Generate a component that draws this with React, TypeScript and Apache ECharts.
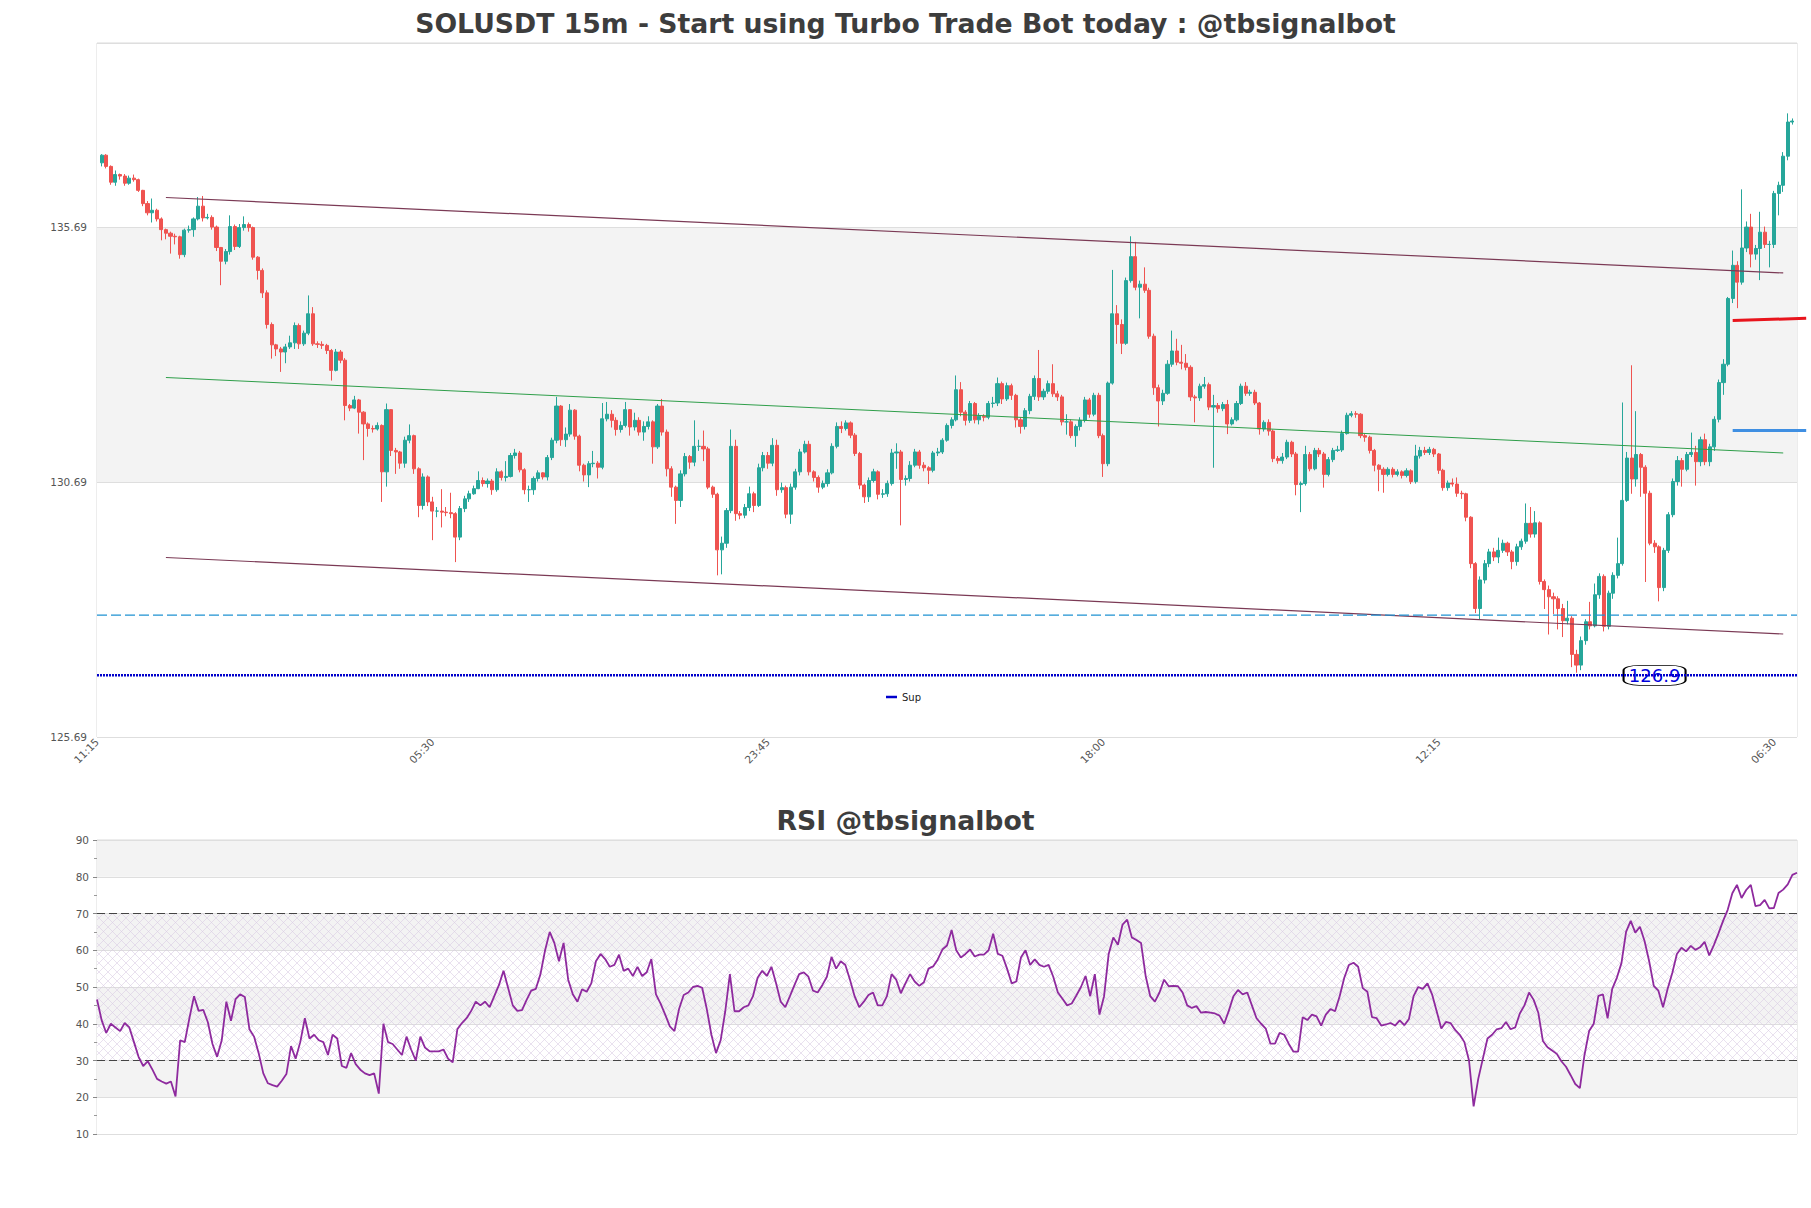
import React, { useEffect, useRef } from 'react';
import * as echarts from 'echarts';

// ---------- DATA ----------
const firstOpen = 136.95;

const closes = [
  137.10,136.88,136.57,136.72,136.69,136.55,136.65,136.62,136.41,136.15,
  135.97,136.02,135.85,135.64,135.57,135.51,135.50,135.15,135.63,135.64,
  135.85,136.10,135.87,135.88,135.69,135.29,135.02,135.21,135.70,135.31,
  135.68,135.74,135.68,135.10,134.84,134.40,133.78,133.38,133.30,133.24,
  133.34,133.42,133.76,133.40,133.61,133.99,133.40,133.39,133.37,133.27,
  132.88,133.24,133.08,132.19,132.14,132.30,132.06,131.83,131.74,131.73,
  131.80,130.89,132.11,131.31,131.28,131.06,131.51,131.60,130.95,130.23,
  130.79,130.30,130.12,130.12,130.10,130.09,130.07,129.61,130.17,130.36,
  130.46,130.56,130.72,130.66,130.71,130.54,130.89,130.78,130.80,131.21,
  131.26,130.93,130.54,130.54,130.76,130.87,130.79,131.17,131.51,132.18,
  131.52,131.63,132.10,131.59,131.02,130.83,131.05,131.06,130.98,131.93,
  132.02,131.90,131.72,131.80,132.11,131.77,131.90,131.67,131.78,131.87,
  131.38,132.18,131.67,130.95,130.59,130.33,130.85,131.19,131.08,131.39,
  131.39,131.34,130.59,130.45,129.36,129.49,130.13,131.39,130.07,130.04,
  130.19,130.46,130.23,130.97,131.21,131.06,131.41,130.54,130.58,130.06,
  130.59,130.89,131.28,131.43,130.89,130.78,130.59,130.66,130.87,131.39,
  131.78,131.74,131.85,131.61,131.25,130.63,130.40,130.72,130.89,130.45,
  130.46,130.66,131.26,131.28,130.74,130.76,131.02,131.28,131.02,130.97,
  130.92,131.26,131.28,131.51,131.80,131.91,132.50,132.06,131.90,132.23,
  131.91,131.98,131.96,132.23,132.24,132.62,132.32,132.58,132.39,131.91,
  131.78,132.09,132.37,132.72,132.36,132.47,132.62,132.42,132.36,131.87,
  131.87,131.60,131.78,131.90,132.30,132.02,132.39,131.60,131.05,132.63,
  133.99,133.78,133.41,134.64,135.11,134.51,134.57,134.45,133.55,132.54,
  132.28,132.43,133.00,133.26,133.04,133.02,132.94,132.36,132.34,132.57,
  132.60,132.16,132.19,132.13,132.21,131.83,131.91,132.23,132.57,132.43,
  132.45,132.24,131.73,131.86,131.69,131.15,131.11,131.18,131.47,131.24,
  130.64,130.66,131.23,130.95,131.31,131.24,130.84,131.13,131.31,131.32,
  131.64,132.00,132.03,132.02,131.60,131.57,131.31,131.02,130.94,130.84,
  130.94,130.84,130.89,130.82,130.91,130.70,131.20,131.31,131.27,131.33,
  131.24,130.92,130.58,130.67,130.65,130.47,130.46,130.00,129.09,128.21,
  128.77,129.09,129.32,129.22,129.35,129.49,129.32,129.13,129.42,129.53,
  129.88,129.67,129.89,128.74,128.58,128.44,128.40,128.21,127.97,128.02,
  127.31,127.10,127.58,127.95,127.87,128.48,128.84,127.86,128.51,128.86,
  129.09,130.33,131.16,130.75,131.23,130.98,130.47,129.49,129.42,128.62,
  129.35,130.05,130.70,131.11,130.94,131.23,131.27,131.09,131.52,131.09,
  131.38,131.92,132.64,133.00,134.29,134.94,134.61,135.28,135.69,135.16,
  135.27,135.59,135.35,135.35,136.35,136.51,137.08,137.75,137.77,
];

const highs = [
  137.12,137.12,136.90,136.80,136.74,136.73,136.70,136.72,136.64,136.42,
  136.20,136.25,136.05,135.88,135.66,135.60,135.56,135.52,135.66,135.72,
  135.88,136.28,136.30,135.95,135.92,135.72,135.30,135.26,135.92,135.74,
  135.75,135.90,135.78,135.70,135.12,134.88,134.45,133.82,133.40,133.34,
  133.40,133.56,133.82,133.80,133.66,134.35,134.12,133.45,133.45,133.40,
  133.30,133.30,133.28,133.12,132.22,132.38,132.32,132.08,131.86,131.80,
  131.86,131.82,132.23,132.12,131.36,131.30,131.58,131.82,131.62,130.98,
  130.86,130.82,130.40,130.20,130.55,130.20,130.48,130.10,130.22,130.42,
  130.52,130.62,130.90,130.78,130.76,130.75,130.96,130.92,131.10,131.26,
  131.34,131.30,130.96,130.62,130.80,130.92,130.88,131.22,131.56,132.36,
  132.20,131.76,132.22,132.12,131.62,131.05,131.10,131.30,131.10,132.24,
  132.26,132.10,131.96,131.88,132.26,132.12,132.05,131.96,131.88,131.98,
  131.90,132.22,132.32,131.72,131.00,130.62,130.92,131.26,131.22,131.90,
  131.52,131.70,131.38,130.62,130.48,129.62,130.18,131.72,131.52,130.12,
  130.26,130.60,130.50,131.05,131.28,131.28,131.55,131.52,130.68,130.62,
  130.66,130.95,131.34,131.50,131.50,130.92,130.82,130.72,130.94,131.45,
  131.86,131.88,131.90,131.88,131.65,131.28,130.66,130.78,130.95,130.92,
  130.55,130.72,131.34,131.45,131.32,130.82,131.10,131.34,131.32,131.08,
  131.00,131.30,131.36,131.55,131.84,131.96,132.78,132.65,132.10,132.28,
  132.26,132.04,132.02,132.28,132.36,132.74,132.66,132.64,132.62,132.42,
  131.96,132.14,132.42,132.78,133.28,132.52,132.68,133.00,132.48,132.40,
  132.02,131.92,131.82,131.96,132.36,132.34,132.44,132.44,131.64,132.66,
  134.85,134.16,133.88,134.70,135.51,135.40,134.64,134.90,134.50,133.60,
  132.60,132.50,133.08,133.66,133.50,133.38,133.20,132.98,132.40,132.62,
  132.75,132.64,132.40,132.24,132.26,132.30,131.96,132.28,132.62,132.65,
  132.50,132.50,132.26,131.90,131.92,131.72,131.20,131.26,131.52,131.50,
  131.28,130.70,131.40,131.28,131.36,131.36,131.28,131.18,131.36,131.40,
  131.70,132.05,132.08,132.08,132.04,131.64,131.60,131.34,131.04,130.98,
  130.98,130.98,130.94,130.92,130.96,130.94,131.42,131.38,131.38,131.38,
  131.36,131.26,130.95,130.72,130.76,130.78,130.52,130.48,130.02,129.12,
  128.84,129.16,129.38,129.40,129.60,129.56,129.52,129.36,129.48,129.58,
  130.27,130.20,130.12,129.92,128.78,128.66,128.52,128.45,128.30,128.36,
  128.06,127.40,127.66,128.00,128.34,128.70,128.90,128.88,128.56,128.92,
  129.60,132.25,131.28,132.98,132.08,131.26,131.02,130.52,129.55,129.45,
  129.40,130.10,130.76,131.20,131.16,131.28,131.66,131.40,131.58,131.64,
  131.44,131.98,132.70,133.10,134.32,135.23,135.02,136.43,135.80,135.95,
  135.34,135.99,135.70,135.42,136.40,136.58,137.16,137.92,137.82,
];

const lows = [
  136.88,136.84,136.52,136.50,136.62,136.50,136.52,136.58,136.38,136.10,
  135.92,135.78,135.80,135.43,135.45,135.17,135.35,135.07,135.10,135.58,
  135.50,135.82,135.80,135.84,135.64,135.22,134.55,134.96,135.15,135.24,
  135.28,135.62,135.60,135.05,134.66,134.30,133.70,133.11,133.16,132.85,
  133.02,133.30,133.30,133.30,133.36,133.57,133.36,133.32,133.30,133.20,
  132.68,132.86,133.02,131.90,132.08,132.12,131.64,131.12,131.58,131.66,
  131.70,130.30,130.60,131.20,130.85,130.95,130.97,131.45,130.85,130.00,
  130.15,130.22,129.55,130.00,129.80,130.02,129.98,129.12,129.55,130.10,
  130.30,130.44,130.55,130.60,130.58,130.44,130.50,130.72,130.70,130.78,
  131.15,130.88,130.45,130.30,130.44,130.70,130.74,130.72,131.12,131.45,
  131.40,131.38,131.58,131.52,130.90,130.70,130.59,130.98,130.76,130.94,
  131.88,131.76,131.60,131.66,131.76,131.60,131.70,131.60,131.50,131.72,
  131.05,131.34,131.60,130.80,130.40,129.87,130.20,130.80,130.95,131.00,
  131.30,131.10,130.55,130.38,128.86,128.88,129.40,130.08,129.93,129.96,
  129.98,130.12,130.10,130.20,130.90,130.95,131.00,130.42,130.48,129.98,
  129.87,130.54,130.82,131.25,130.82,130.70,130.48,130.55,130.60,130.84,
  131.35,131.65,131.70,131.55,131.20,130.55,130.28,130.30,130.68,130.35,
  130.38,130.40,130.62,130.95,129.84,130.62,130.70,130.98,130.95,130.90,
  130.65,130.88,131.20,131.24,131.48,131.74,131.88,131.98,131.80,131.85,
  131.84,131.82,131.88,131.92,132.15,132.18,132.22,132.28,132.30,131.76,
  131.64,131.72,132.02,132.30,132.28,132.30,132.42,132.36,132.28,131.80,
  131.62,131.55,131.38,131.70,131.86,131.95,131.98,131.55,130.79,131.00,
  132.60,133.40,133.20,133.38,134.60,134.45,133.90,134.40,133.50,132.40,
  131.78,132.20,132.40,132.95,132.98,132.90,132.88,132.28,131.86,132.28,
  132.52,132.10,130.97,132.05,132.08,131.63,131.80,131.88,132.20,132.38,
  132.38,132.20,131.62,131.68,131.60,131.08,131.05,131.05,131.14,131.18,
  130.43,130.10,130.62,130.90,130.92,131.18,130.58,130.80,131.08,131.28,
  131.28,131.62,131.96,131.95,131.55,131.48,131.25,130.90,130.51,130.48,
  130.80,130.78,130.80,130.76,130.78,130.65,130.66,131.15,131.22,131.22,
  131.18,130.85,130.52,130.52,130.60,130.40,130.36,129.92,129.00,128.12,
  128.00,128.70,129.02,129.14,129.10,129.30,129.24,128.98,129.05,129.36,
  129.48,129.60,129.60,128.68,128.20,127.70,128.10,127.80,127.65,127.90,
  127.06,126.95,127.00,127.50,127.80,127.84,128.40,127.76,127.80,128.40,
  128.80,129.05,130.30,130.46,130.60,130.40,128.73,129.45,129.30,128.35,
  128.55,129.30,130.00,130.62,130.60,130.90,131.18,130.62,131.00,131.02,
  131.00,131.30,131.86,132.40,132.96,134.20,134.10,134.56,135.20,134.90,
  135.05,134.65,135.28,134.90,135.28,135.92,136.38,137.00,137.70,
];

const rsiValues = [
  46.6,41,37.5,40,39,38,40.2,39,35,31,
  28.5,29.8,27.5,25,24.3,23.7,24.3,20.2,35.5,35,
  41.5,47.5,43.5,43.8,40.4,34.5,31,35.5,46,40.8,
  46.7,48,47.3,38.5,36.5,32,26.5,23.8,23.3,22.9,
  24.5,26.3,33.9,30.5,35,41.5,36,37,35.5,35,
  31.5,37,36,28.5,28,32,29,27.5,26.5,26,
  26.5,21,40,35,34.5,33,31.5,36.5,33,30,
  36.5,33.5,32.5,32.5,32.5,33,30.5,29.5,38.5,40.2,
  41.5,43.5,46,45,46,44.5,47.5,50.5,54.4,49.7,
  45,43.5,43.7,46.5,49,49.5,53.5,60,65,62,
  57,62,52,48,46,49.4,48.7,51,57,59,
  57.6,55.5,56,58.8,54.4,55,53,55.5,53,54,
  57.6,48,45.5,42.5,39.3,38,44,47.8,48.5,50,
  50.3,49.8,44,37,32,35.5,43.4,53.5,43.4,43.4,
  44.5,45,47.5,52.5,54.4,53,55.5,51,46,44.5,
  47.5,50.6,53.5,54,52.8,49,48.5,50.5,52.8,58.2,
  55,57,56,52,47.5,44.5,46,47.8,48.5,45,
  45,47.5,53.5,52,48.3,51,53.5,51.5,50.3,51.3,
  55,55.6,57.5,60.2,61.3,65.5,60,58,59,60.2,
  58.3,58.8,58.8,60,64.5,59,58.5,55,51,51.5,
  58,60,56,57.5,56,55.5,56,52.8,48.5,46.8,
  45,45.5,47.7,50,53,47.5,53.5,42.5,47.5,59,
  63.5,61.5,67,68.3,63.5,62.8,62,53,47.5,46,
  48.5,52,50.2,50.3,50.2,48.5,45,44.3,44.8,43,
  43.2,43,42.8,42.2,40,43.5,47.5,49.2,48,48.5,
  45,41.5,40,38.7,34.6,34.6,37.5,37,34.5,32.4,
  32.4,41.8,41,42.5,42,39.5,42.5,44,43.4,47.5,
  52.5,56,56.6,55.5,49.7,48.7,41.8,41.5,39.5,39.8,
  40.2,39.5,40.9,39.6,41.3,47.5,50,49.5,51,48,
  43.4,38.7,40.5,40.2,38.3,37,35,30,17.5,25,
  30.5,36,37,38.5,38.8,40.5,38.5,39,42.8,45,
  48.5,46.5,43,35.3,33.6,32.7,31.8,29.8,28.3,26,
  23.6,22.5,31.5,38,40,47.6,48,41.5,49.5,52.5,
  56.5,65,68,64.8,66.4,62.5,57,50.3,49,44.5,
  49.5,53.8,59,60.7,59.7,61.2,60.1,60.8,62.3,58.6,
  61.4,64.6,68,71,75.5,77.8,74.2,76.4,77.8,72,
  72.3,73.7,71.4,71.5,75.6,76.5,77.9,80.5,81.1,
];

const timeLabels = ['11:15', '05:30', '23:45', '18:00', '12:15', '06:30'];
const timeLabelStep = 73;
const priceTickBase = 125.69;
const priceTickStep = 5;
const priceTop = 139.3;

const upperChannel = [[15, 136.27], [367, 134.79]];
const middleChannel = [[15, 132.74], [367, 131.26]];
const lowerChannel = [[15, 129.21], [367, 127.71]];
const dashedLevel = 128.08;
const supportLevel = 126.9;
const supportLabelX = 339;
const redLevel = [[356, 133.86], [372, 133.9]];
const blueLevel = [[356, 131.7], [372, 131.7]];
const rsiBands = [30, 70];
const rsiMin = 10;
const rsiMax = 90;

const FONT = 'DejaVu Sans';

export default function App() {
  const ref = useRef<HTMLDivElement>(null);

  useEffect(() => {
    if (!ref.current) return;
    const chart = echarts.init(ref.current, null, { renderer: 'svg' });

    // shift prices so that the axis minimum is a multiple of the tick interval
    const off = priceTickBase - Math.floor(priceTickBase / priceTickStep) * priceTickStep; // 0.69
    const n = closes.length;
    const xMax = n + 1;
    const opens = [firstOpen, ...closes.slice(0, -1)];
    const candleData = closes.map((c, i) => [i + 1, opens[i] - off, c - off, lows[i] - off, highs[i] - off]);
    const shift = (pts: number[][]) => pts.map(([x, y]) => [x, y - off]);

    const hatch =
      'data:image/svg+xml;utf8,' +
      encodeURIComponent(
        "<svg xmlns='http://www.w3.org/2000/svg' width='9' height='9'><path d='M0 0L9 9M9 0L0 9' stroke='rgb(214,200,226)' stroke-width='0.55' fill='none'/></svg>"
      );

    const titleStyle = { fontFamily: FONT, fontSize: 26.7, fontWeight: 'bold', color: '#3d3d3d', lineHeight: 32 };

    const option: any = {
      animation: false,
      backgroundColor: '#ffffff',
      textStyle: { fontFamily: FONT },
      title: [
        {
          text: 'SOLUSDT 15m - Start using Turbo Trade Bot today : @tbsignalbot',
          left: 'center',
          top: 7,
          padding: 0,
          textStyle: titleStyle,
        },
        {
          text: 'RSI @tbsignalbot',
          left: 'center',
          top: 804,
          padding: 0,
          textStyle: titleStyle,
        },
      ],
      legend: {
        data: ['Sup'],
        left: 881,
        top: 687,
        icon: 'rect',
        itemWidth: 11,
        itemHeight: 2.5,
        itemGap: 5,
        textStyle: { fontFamily: FONT, fontSize: 10, color: '#222' },
      },
      grid: [
        { left: 97, top: 43, width: 1700, height: 694, show: true, borderColor: '#dadada', borderWidth: 1, backgroundColor: 'transparent' },
        { left: 97, top: 840, width: 1700, height: 294, show: true, borderColor: '#dadada', borderWidth: 1, backgroundColor: 'transparent' },
      ],
      xAxis: [
        {
          type: 'value',
          gridIndex: 0,
          min: 0,
          max: xMax,
          interval: timeLabelStep,
          axisLine: { show: false },
          axisTick: { show: false },
          splitLine: { show: false },
          axisLabel: {
            rotate: 45,
            fontSize: 10.5,
            color: '#555',
            margin: 3,
            fontFamily: FONT,
            formatter: (v: number) => {
              const k = v / timeLabelStep;
              return Number.isInteger(k) && timeLabels[k] ? timeLabels[k] : '';
            },
          },
        },
        {
          type: 'value',
          gridIndex: 1,
          min: 0,
          max: rsiValues.length - 1,
          axisLine: { show: false },
          axisTick: { show: false },
          splitLine: { show: false },
          axisLabel: { show: false },
        },
      ],
      yAxis: [
        {
          type: 'value',
          gridIndex: 0,
          min: priceTickBase - off,
          max: priceTop - off,
          interval: priceTickStep,
          axisLine: { show: false },
          axisTick: { show: false },
          splitLine: { show: true, lineStyle: { color: '#dedede', width: 1 } },
          splitArea: { show: true, areaStyle: { color: ['#ffffff', '#f3f3f3'] } },
          axisLabel: {
            fontSize: 10.5,
            color: '#555',
            margin: 10,
            fontFamily: FONT,
            formatter: (v: number) => {
              const k = v / priceTickStep;
              return Math.abs(k - Math.round(k)) < 1e-6 ? (v + off).toFixed(2) : '';
            },
          },
        },
        {
          type: 'value',
          gridIndex: 1,
          min: rsiMin,
          max: rsiMax,
          interval: 10,
          axisLine: { show: false },
          axisTick: { show: true, length: 4, lineStyle: { color: '#888' } },
          minorTick: { show: true, splitNumber: 2, length: 3, lineStyle: { color: '#999' } },
          splitLine: { show: true, lineStyle: { color: '#dedede', width: 1 } },
          splitArea: { show: true, areaStyle: { color: ['#ffffff', '#f3f3f3'] } },
          axisLabel: { fontSize: 10.5, color: '#555', margin: 8, fontFamily: FONT },
        },
      ],
      series: [
        {
          type: 'candlestick',
          xAxisIndex: 0,
          yAxisIndex: 0,
          data: candleData,
          encode: { x: 0, y: [1, 2, 3, 4] },
          barWidth: '78%',
          silent: true,
          itemStyle: {
            color: '#26a69a',
            color0: '#ef5350',
            borderColor: '#26a69a',
            borderColor0: '#ef5350',
            borderWidth: 1,
          },
          z: 3,
        },
        {
          type: 'line',
          name: 'upper',
          xAxisIndex: 0,
          yAxisIndex: 0,
          data: shift(upperChannel),
          symbol: 'none',
          silent: true,
          lineStyle: { color: '#7b3a55', width: 1.2 },
          z: 4,
        },
        {
          type: 'line',
          name: 'middle',
          xAxisIndex: 0,
          yAxisIndex: 0,
          data: shift(middleChannel),
          symbol: 'none',
          silent: true,
          lineStyle: { color: '#2f9e4a', width: 1 },
          z: 4,
        },
        {
          type: 'line',
          name: 'lower',
          xAxisIndex: 0,
          yAxisIndex: 0,
          data: shift(lowerChannel),
          symbol: 'none',
          silent: true,
          lineStyle: { color: '#7b3a55', width: 1.2 },
          z: 4,
        },
        {
          type: 'line',
          name: 'dashed',
          xAxisIndex: 0,
          yAxisIndex: 0,
          data: [[0, dashedLevel - off], [xMax, dashedLevel - off]],
          symbol: 'none',
          silent: true,
          lineStyle: { color: '#1f92d2', width: 1.2, type: [10, 4] },
          z: 4,
        },
        {
          type: 'line',
          name: 'Sup',
          color: '#0000cc',
          xAxisIndex: 0,
          yAxisIndex: 0,
          data: [[0, supportLevel - off], [xMax, supportLevel - off]],
          symbol: 'none',
          silent: true,
          lineStyle: { color: '#0000cc', width: 2.6, type: [2, 1] },
          z: 5,
          markPoint: {
            silent: true,
            symbol: 'roundRect',
            symbolSize: [62, 20],
            itemStyle: { color: '#ffffff', borderColor: '#000000', borderWidth: 1.2 },
            label: {
              show: true,
              position: 'inside',
              formatter: String(supportLevel),
              color: '#0000dd',
              fontSize: 18,
              fontFamily: FONT,
            },
            data: [{ coord: [supportLabelX, supportLevel - off] }],
          },
        },
        {
          type: 'line',
          name: 'RSI',
          xAxisIndex: 1,
          yAxisIndex: 1,
          data: rsiValues.map((v, i) => [i, v]),
          symbol: 'none',
          silent: true,
          lineStyle: { color: '#8e2a9e', width: 1.8 },
          z: 5,
          markLine: {
            silent: true,
            symbol: 'none',
            label: { show: false },
            lineStyle: { color: '#444', width: 1.2, type: [8, 4] },
            data: rsiBands.map((b) => ({ yAxis: b })),
          },
          markArea: {
            silent: true,
            itemStyle: { color: { image: hatch, repeat: 'repeat', imageWidth: 9, imageHeight: 9 } },
            data: [[{ yAxis: rsiBands[0] }, { yAxis: rsiBands[1] }]],
          },
        },
      ],
    };

    chart.setOption(option);

    // short level lines that run past the plot's right edge, placed through the chart's own scales
    const levelLine = (pts: number[][], color: string) => {
      const a = chart.convertToPixel({ gridIndex: 0 }, [pts[0][0], pts[0][1] - off]) as number[];
      const b = chart.convertToPixel({ gridIndex: 0 }, [pts[1][0], pts[1][1] - off]) as number[];
      return {
        type: 'line',
        silent: true,
        z: 10,
        shape: { x1: a[0], y1: a[1], x2: b[0], y2: b[1] },
        style: { stroke: color, lineWidth: 3 },
      };
    };
    chart.setOption({ graphic: [levelLine(redLevel, '#e8141c'), levelLine(blueLevel, '#3f8fe2')] });

    return () => chart.dispose();
  }, []);

  return (
    <div
      ref={ref}
      style={{ position: 'absolute', left: 0, top: 0, width: 1811, height: 1208, background: '#ffffff' }}
    />
  );
}
